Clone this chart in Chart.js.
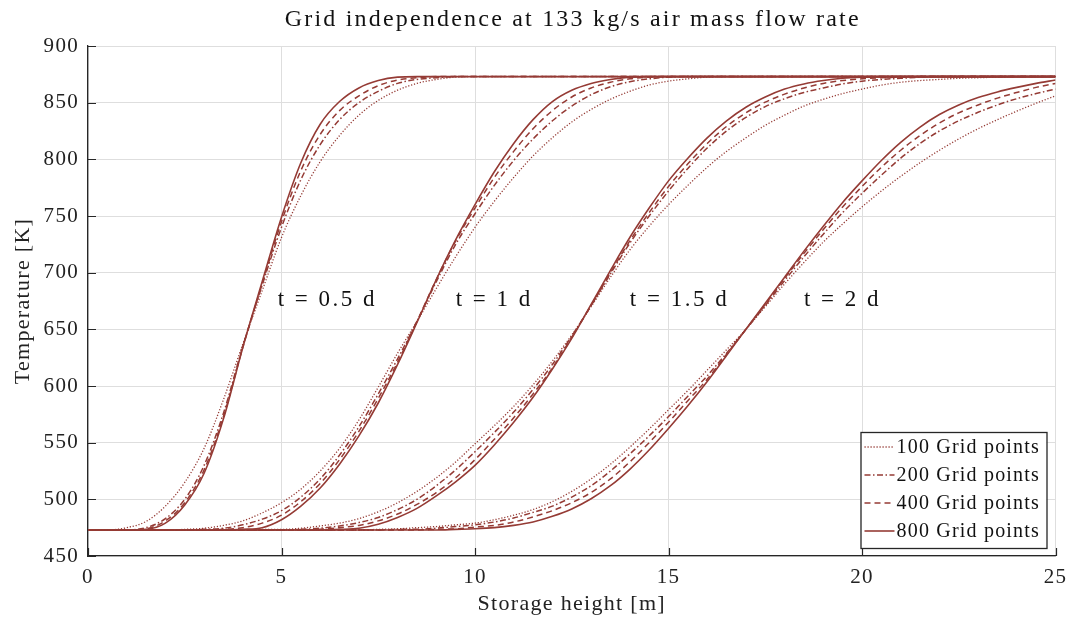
<!DOCTYPE html>
<html>
<head>
<meta charset="utf-8">
<script src="https://cdn.jsdelivr.net/npm/chart.js@4.4.1/dist/chart.umd.min.js"></script>
<style>
  html, body { margin: 0; padding: 0; background: #fff; }
  #wrap { width: 1075px; height: 621px; }
</style>
</head>
<body>
<div id="wrap"><canvas id="gridChart" width="1075" height="621"></canvas></div>
<script>
// storage height [m] sampled for each time curve family
var heights05 = [0, 0.5, 1, 1.5, 2, 2.5, 3, 3.5, 4, 4.5, 5, 5.5, 6, 6.5, 7, 7.5, 8, 8.5, 9, 9.5, 10, 25];
var heights10 = [0, 2, 2.5, 3, 3.5, 4, 4.5, 5, 5.5, 6, 6.5, 7, 7.5, 8, 8.5, 9, 9.5, 10, 10.5, 11, 11.5, 12, 12.5, 13, 13.5, 14, 14.5, 15, 15.5, 16, 16.5, 17, 25];
var heights15 = [0, 5, 5.5, 6, 6.5, 7, 7.5, 8, 8.5, 9, 9.5, 10, 10.5, 11, 11.5, 12, 12.5, 13, 13.5, 14, 14.5, 15, 15.5, 16, 16.5, 17, 17.5, 18, 18.5, 19, 19.5, 20, 20.5, 21, 21.5, 22, 22.5, 23, 23.5, 24, 24.5, 25];
var heights20 = [0, 7, 7.5, 8, 8.5, 9, 9.5, 10, 10.5, 11, 11.5, 12, 12.5, 13, 13.5, 14, 14.5, 15, 15.5, 16, 16.5, 17, 17.5, 18, 18.5, 19, 19.5, 20, 20.5, 21, 21.5, 22, 22.5, 23, 23.5, 24, 24.5, 25];

// temperature [K], t = 0.5 d
var t05_100 = [473, 473, 475, 480.5, 494, 515, 545, 588, 637, 684, 731, 768, 798, 821, 839, 852, 861, 867, 870.5, 872.5, 873, 873];
var t05_200 = [473, 473, 473, 475, 483, 500, 530, 576, 635, 689, 740, 782, 813, 835, 850, 860, 867, 870.5, 872, 873, 873, 873];
var t05_400 = [473, 473, 473, 474, 481, 497, 526, 573, 634, 690, 745, 790, 822, 843, 856, 865, 870, 872, 873, 873, 873, 873];
var t05_800 = [473, 473, 473, 473.5, 479, 495, 523, 571, 634, 692, 749, 797, 831, 851, 863, 869.5, 872.5, 873, 873, 873, 873, 873];

// t = 1 d
var t10_100 = [473, 473, 473.5, 474.5, 477, 481, 488, 497, 509, 525, 545, 570, 599, 629, 657, 686, 714, 740, 763, 784, 803, 819, 833, 844, 853, 860, 865.5, 869, 871, 872.5, 873, 873, 873];
var t10_200 = [473, 473, 473, 473.5, 474.5, 477.5, 482.5, 490, 502, 518, 539, 564, 593, 624, 657, 692, 725, 752, 777, 799, 818, 834, 847, 857, 864, 868.5, 871, 872.5, 873, 873, 873, 873, 873];
var t10_400 = [473, 473, 473, 473, 473.5, 475, 479, 486, 498, 514, 535, 560, 589, 621, 657, 694, 728, 757, 784, 807, 827, 843, 855, 863, 868, 871, 872.5, 873, 873, 873, 873, 873, 873];
var t10_800 = [473, 473, 473, 473, 473, 473.5, 475, 482, 494, 510, 531, 556, 585, 619, 656, 694, 729, 760, 789, 814, 835, 851, 861, 867, 870.5, 872.5, 873, 873, 873, 873, 873, 873, 873];

// t = 1.5 d
var t15_100 = [473, 473.5, 474.5, 476.5, 479, 483, 489, 497, 507, 519, 533, 549, 565, 582, 601, 622, 645, 670, 696, 720, 741, 760, 777, 793, 807, 819, 830, 839, 847, 853, 858, 862, 865.5, 868, 869.5, 870.5, 871.5, 872, 872.5, 873, 873, 873];
var t15_200 = [473, 473, 473.5, 474.5, 476.5, 479.5, 484, 491, 500, 512, 526, 542, 559, 577, 597, 619, 644, 671, 699, 726, 750, 772, 792, 810, 825, 837, 846.5, 853.5, 859, 863, 866.5, 869, 870.5, 871.5, 872.5, 873, 873, 873, 873, 873, 873, 873];
var t15_400 = [473, 473, 473, 473.5, 475, 477, 481, 487, 495.5, 506, 519, 535, 553, 572, 593, 616, 643, 671, 700, 728, 753, 776, 796, 814, 829, 841, 850.5, 857.5, 863, 867, 869.5, 871, 872, 872.5, 873, 873, 873, 873, 873, 873, 873, 873];
var t15_800 = [473, 473, 473, 473, 473.5, 474.5, 478, 484, 492, 503, 515.5, 530, 548, 568, 590, 615, 642, 672, 702, 731, 757, 781, 801, 819, 834, 846, 855, 862, 866.5, 869.5, 871.5, 872.5, 873, 873, 873, 873, 873, 873, 873, 873, 873, 873];

// t = 2 d
var t20_100 = [473, 473, 473.5, 474, 475, 476, 477.5, 479, 482, 486, 491, 498, 507, 518, 531, 546, 562, 579, 596, 614, 632, 650, 670, 690, 709, 727, 743, 758, 772, 785, 797, 808, 818, 827, 835, 842.5, 849.5, 856];
var t20_200 = [473, 473, 473, 473.5, 473.5, 474.5, 476, 477.5, 480, 483.5, 488.5, 494, 502, 512, 525, 540, 556, 573, 591, 609, 629, 650, 671, 693, 714, 734, 753, 770, 786, 801, 814, 825, 834, 841.5, 848, 853.5, 858, 862];
var t20_400 = [473, 473, 473, 473, 473, 473.5, 474, 475.5, 477, 480, 484.5, 490, 497, 506, 518, 533, 550, 568, 587, 606, 628, 650, 672, 695, 717, 738, 758, 776, 793, 808, 821, 832, 841, 848, 854, 859, 863.5, 867];
var t20_800 = [473, 473, 473, 473, 473, 473, 473.5, 474, 475, 477, 480, 485, 491.5, 500.5, 512, 526.5, 543.5, 562.5, 582.5, 604, 627, 650, 673, 696, 719, 741, 762, 781, 799, 815, 828.5, 839.5, 848, 854.5, 859.5, 863.5, 867, 870];

var gridPoints = ["100 Grid points", "200 Grid points", "400 Grid points", "800 Grid points"];
var timeLabels = ["t = 0.5 d", "t = 1 d", "t = 1.5 d", "t = 2 d"];
var labelHeights = [4.9, 9.5, 14.0, 18.5];
var labelTemp = 676;
var xTicks = [0, 5, 10, 15, 20, 25];
var yTicks = [450, 500, 550, 600, 650, 700, 750, 800, 850, 900];
var titleText = "Grid independence at 133 kg/s air mass flow rate";

var groups = [
  { x: heights05, series: [t05_100, t05_200, t05_400, t05_800] },
  { x: heights10, series: [t10_100, t10_200, t10_400, t10_800] },
  { x: heights15, series: [t15_100, t15_200, t15_400, t15_800] },
  { x: heights20, series: [t20_100, t20_200, t20_400, t20_800] }
];

var lineColor = "#953b35";
var serif = "'Liberation Serif', 'DejaVu Serif', serif";
var dashes = [[1.2, 1.8], [6, 2.5, 1.5, 2.5], [6, 4], []];
var widths = [1.3, 1.5, 1.5, 1.6];

var datasets = [];
groups.forEach(function (g) {
  g.series.forEach(function (vals, k) {
    datasets.push({
      label: gridPoints[k],
      data: g.x.map(function (h, i) { return { x: h, y: vals[i] }; }),
      borderColor: lineColor,
      borderWidth: widths[k],
      borderDash: dashes[k],
      pointRadius: 0,
      fill: false,
      cubicInterpolationMode: "monotone"
    });
  });
});

// LaTeX-like text is wider than Times, so space the letters a little
var spacing = {
  id: "spacing",
  beforeDraw: function (chart) { chart.ctx.letterSpacing = "1.3px"; },
  afterDraw: function (chart) { chart.ctx.letterSpacing = "0px"; }
};

// "t = ... d" labels placed through the scales
var timeLabelPlugin = {
  id: "timeLabels",
  afterDatasetsDraw: function (chart) {
    var ctx = chart.ctx, xs = chart.scales.x, ys = chart.scales.y;
    ctx.save();
    ctx.letterSpacing = "2.5px";
    ctx.fillStyle = "#111";
    ctx.font = "23px " + serif;
    ctx.textAlign = "left";
    ctx.textBaseline = "middle";
    timeLabels.forEach(function (t, i) {
      ctx.fillText(t, xs.getPixelForValue(labelHeights[i]), ys.getPixelForValue(labelTemp));
    });
    ctx.restore();
  }
};

// inward tick marks on left and bottom axes
var innerTicks = {
  id: "innerTicks",
  afterDraw: function (chart) {
    var ctx = chart.ctx, a = chart.chartArea, xs = chart.scales.x, ys = chart.scales.y;
    ctx.save();
    ctx.strokeStyle = "#262626";
    ctx.lineWidth = 1.2;
    ctx.beginPath();
    yTicks.forEach(function (v) {
      var p = Math.round(ys.getPixelForValue(v)) + 0.5;
      ctx.moveTo(a.left, p); ctx.lineTo(a.left + 8, p);
    });
    xTicks.forEach(function (v) {
      var p = Math.round(xs.getPixelForValue(v)) + 0.5;
      ctx.moveTo(p, a.bottom); ctx.lineTo(p, a.bottom - 8);
    });
    ctx.stroke();
    ctx.restore();
  }
};

// boxed legend in the lower right corner
var boxLegend = {
  id: "boxLegend",
  afterDraw: function (chart) {
    var ctx = chart.ctx, a = chart.chartArea;
    var w = 186, h = 116;
    var x0 = a.right - 9 - w, y0 = a.bottom - 8 - h;
    ctx.save();
    ctx.letterSpacing = "1.2px";
    ctx.fillStyle = "#fff";
    ctx.fillRect(x0, y0, w, h);
    ctx.strokeStyle = "#262626";
    ctx.lineWidth = 1.3;
    ctx.strokeRect(x0 + 0.5, y0 + 0.5, w, h);
    ctx.font = "20px " + serif;
    ctx.textBaseline = "middle";
    ctx.textAlign = "left";
    gridPoints.forEach(function (g, i) {
      var y = y0 + 15 + i * 28;
      ctx.strokeStyle = lineColor;
      ctx.lineWidth = widths[i];
      ctx.setLineDash(dashes[i]);
      ctx.beginPath();
      ctx.moveTo(x0 + 4, y); ctx.lineTo(x0 + 34, y);
      ctx.stroke();
      ctx.setLineDash([]);
      ctx.fillStyle = "#111";
      ctx.fillText(g, x0 + 36, y + 1);
    });
    ctx.restore();
  }
};

// title centred over the plot area
var topTitle = {
  id: "topTitle",
  afterDraw: function (chart) {
    var ctx = chart.ctx, a = chart.chartArea;
    ctx.save();
    ctx.letterSpacing = "2.2px";
    ctx.fillStyle = "#111";
    ctx.font = "24px " + serif;
    ctx.textAlign = "center";
    ctx.textBaseline = "middle";
    ctx.fillText(titleText, (a.left + a.right) / 2 + 1, 20);
    ctx.restore();
  }
};

var ctx = document.getElementById("gridChart").getContext("2d");
var gridChart = new Chart(ctx, {
  type: "line",
  data: { datasets: datasets },
  plugins: [spacing, timeLabelPlugin, innerTicks, boxLegend, topTitle],
  options: {
    responsive: false,
    animation: false,
    layout: { padding: { left: 10, right: 19, top: 46, bottom: 0 } },
    plugins: {
      legend: { display: false },
      tooltip: { enabled: false },
      title: { display: false }
    },
    scales: {
      x: {
        type: "linear",
        min: 0,
        max: 25,
        afterBuildTicks: function (s) { s.ticks = xTicks.map(function (v) { return { value: v }; }); },
        afterFit: function (s) { s.height = 65; },
        grid: { color: "#dedede", drawTicks: false, lineWidth: 1 },
        border: { color: "#262626", width: 1.3 },
        ticks: { color: "#222", padding: 9, font: { family: serif, size: 21 } },
        title: {
          display: true,
          text: "Storage height [m]",
          color: "#222",
          font: { family: serif, size: 22 },
          padding: { top: 0, bottom: 4 }
        }
      },
      y: {
        type: "linear",
        min: 450,
        max: 900,
        afterBuildTicks: function (s) { s.ticks = yTicks.map(function (v) { return { value: v }; }); },
        afterFit: function (s) { s.width = 78; },
        grid: { color: "#dedede", drawTicks: false, lineWidth: 1 },
        border: { color: "#262626", width: 1.3 },
        ticks: { color: "#222", padding: 9, font: { family: serif, size: 21 } },
        title: {
          display: true,
          text: "Temperature [K]",
          color: "#222",
          font: { family: serif, size: 22 },
          padding: { top: 0, bottom: 0 }
        }
      }
    }
  }
});
</script>
</body>
</html>
